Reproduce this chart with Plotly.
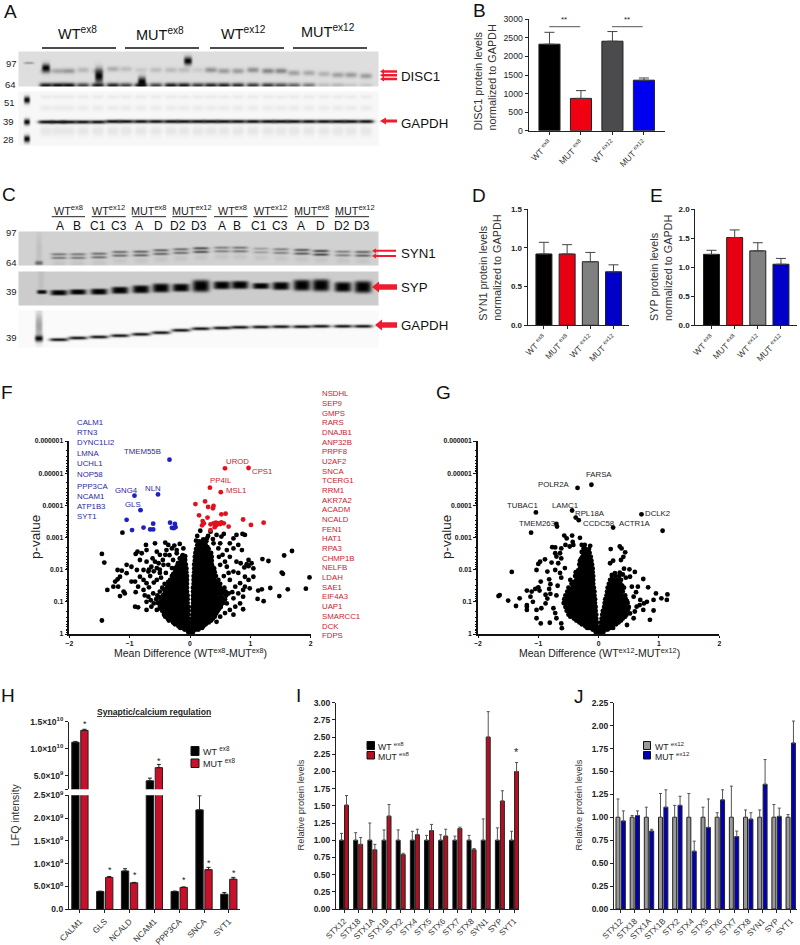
import numpy as np
import plotly.graph_objects as go

FONT = "Liberation Sans"
W, H = 800, 945

# ---------- bar data ----------
cond_ex = ["WT <sup>ex8</sup>", "MUT <sup>ex8</sup>", "WT <sup>ex12</sup>", "MUT <sup>ex12</sup>"]
disc1_vals = [2330, 870, 2410, 1360]
disc1_tops = [2650, 1080, 2670, 1420]
syn1_vals = [0.92, 0.92, 0.82, 0.69]
syn1_tops = [1.07, 1.04, 0.94, 0.78]
syp_vals = [1.22, 1.51, 1.28, 1.05]
syp_tops = [1.29, 1.64, 1.42, 1.15]

lfq_cats = ["CALM1", "GLS", "NCALD", "NCAM1", "PPP3CA", "SNCA", "SYT1"]
lfq_wt = [1.12e10, 3.9e8, 8.4e8, 4.07e9, 3.9e8, 2.18e9, 3.3e8]
lfq_wt_top = [1.135e10, 4.0e8, 8.9e8, 4.57e9, 4.0e8, 2.49e9, 3.7e8]
lfq_mut = [1.34e10, 7.0e8, 5.8e8, 6.5e9, 4.8e8, 8.7e8, 6.6e8]
lfq_mut_top = [1.36e10, 7.2e8, 5.9e8, 7.1e9, 4.9e8, 9.2e8, 7.0e8]

stx_cats = ["STX12", "STX18", "STX1A", "STX1B", "STX2", "STX4", "STX5", "STX6", "STX7", "STX8", "SYN1", "SYP", "SYT1"]
i_wt = [1.0] * 13
i_wt_top = [1.10, 1.11, 1.25, 1.15, 1.15, 1.13, 1.07, 1.08, 1.06, 1.07, 1.31, 1.18, 1.13]
i_mut = [1.51, 0.94, 0.86, 1.35, 0.79, 1.08, 1.14, 1.06, 1.17, 0.86, 2.50, 1.57, 2.00]
i_mut_top = [1.65, 1.04, 0.94, 1.52, 0.81, 1.16, 1.23, 1.16, 1.19, 0.88, 2.87, 1.72, 2.13]
j_wt = [1.0] * 13
j_wt_top = [1.20, 1.02, 1.11, 1.26, 1.13, 1.26, 1.11, 1.05, 1.34, 1.08, 1.08, 1.14, 1.03]
j_mut = [0.96, 1.02, 0.85, 1.11, 1.13, 0.63, 0.89, 1.19, 0.79, 0.98, 1.36, 1.01, 1.81]
j_mut_top = [1.07, 1.07, 0.87, 1.30, 1.23, 0.74, 1.20, 1.30, 0.85, 1.05, 1.63, 1.10, 2.05]

# ---------- volcano data: (mean difference, -log10 p) ----------
F_blue = [(-.34,5.42),(-.53,4.34),(-.92,4.30),(-.82,3.85),(-1.05,3.55),(-.61,3.43),(-.33,3.46),(-.25,3.42),
          (-.77,3.31),(-.66,3.25),(-.61,3.25),(-.96,3.23),(-.30,3.30),(-.24,3.32),(-.27,3.29)]
F_red = [(.58,5.15),(.97,5.16),(.33,4.55),(.51,4.41),(.09,4.04),(.25,4.12),(.30,3.95),(.39,3.98),(.38,3.91),
         (.15,3.69),(.29,3.62),(.52,3.72),(.59,3.74),(.88,3.56),(1.01,3.39),(1.22,3.46),(.21,3.51),(.23,3.44),
         (.20,3.38),(.34,3.41),(.39,3.44),(.43,3.46),(.47,3.44),(.52,3.47),(.44,3.39),(.56,3.44),(.64,3.34),
         (.34,3.23),(.41,3.32),(.50,3.42)]
F_sparse = [(-1.12,3.15),(-.73,2.77),(-.58,2.82),(-.41,2.84),(-.36,2.77),(-.17,2.80),(-.39,2.61),(-.30,2.66),
            (-.72,2.61),(-.80,2.51),(-.87,2.56),(-.90,2.49),(-.55,2.56),(-.50,2.46),(-.41,2.46),(-.22,2.61),
            (-.11,2.66),(-.22,2.51),(-.83,2.30),(-.72,2.25),(-.64,2.09),(-.52,2.20),(-.44,2.15),(-.36,2.15),
            (-.28,2.30),(-.17,2.35),(-.88,1.99),(-.77,1.99),(-.69,1.94),(-.97,2.09),(-1.05,2.15),(-1.20,1.99),
            (-1.13,1.97),(-1.05,1.89),(-1.16,1.78),(-1.20,1.70),(-1.24,1.63),(-1.37,1.37),(-1.27,1.47),(-1.19,1.47),
            (-1.10,1.32),(-1.08,1.26),(-1.16,1.18),(-.97,1.63),(-.91,1.63),(-.86,1.47),(-.72,1.58),(-.55,1.68),
            (-.61,1.26),(-.77,1.37),(-.69,1.16),(-.91,.85),(-.86,.83),(-.72,.75),(-.64,.85),(-.55,.75),(-1.46,.42),
            (-1.46,2.49),(-1.42,2.22),(-.77,1.68),(-.83,1.78),(-.60,1.95),(-.66,1.80),(-.50,1.90),(-.60,1.60),
            (-.68,1.45),(-.75,1.20),(-.65,1.05),(-.60,.95),(-.50,2.00),(-.45,2.30),(-.62,2.35),(-.68,2.00),
            (-.48,1.75),(-.90,1.30),(-.72,1.00),(-.34,2.45),(-.26,2.75),(-.55,2.05),(-.58,2.25),(-.12,2.45),
            (-.20,2.20),(-.30,2.05),(-.40,1.90),
            (1.69,2.58),(1.56,2.44),(1.20,2.33),(1.30,2.27),(1.52,1.91),(1.54,1.87),(1.98,1.76),(1.92,1.41),(1.62,1.39),
            (1.48,1.18),(1.33,1.43),(1.19,1.39),(1.13,1.35),(1.22,1.02),(1.12,1.09),(.97,2.30),(1.02,2.20),(.94,2.17),
            (.90,2.07),(.97,2.11),(1.05,2.04),(.91,1.78),(1.05,1.78),(.97,1.68),(.83,1.58),(.91,1.47),(.99,1.42),
            (.88,1.37),(.80,1.26),(.88,1.16),(.72,1.11),(.83,.95),(.88,.77),(.75,.85),
            (.17,3.21),(.34,3.18),(.22,2.94),(.28,2.97),(.44,3.08),(.52,3.03),(.56,3.11),(.72,2.97),(.77,3.08),
            (.87,3.11),(.91,3.08),(.66,2.82),(.80,2.77),(.61,2.61),(.72,2.66),(.86,2.61),(.50,2.82),(.39,2.82),
            (.47,2.66),(.54,2.46),(.66,2.40),(.77,2.25),(.61,2.09),(.72,1.94),(.66,1.68),(.75,1.47),(.64,1.26),
            (.61,.95),(.66,.75),(.50,.54),(.44,.38),(.38,2.95),(.30,3.05),(.12,3.05),(.10,2.90),(.58,2.25),
            (.50,2.15),(.48,2.40),(.64,1.90),(.56,1.80),(.70,1.30),(.72,.60),(.58,.65),(.84,2.20),(.80,1.90)]
F_left_rows = [(.06,[-.01,-.03]),(.14,[-.02,-.05,-.09]),(.24,[-.02,-.06,-.10,-.15,-.19]),
               (.36,[-.02,-.07,-.12,-.17,-.22,-.28]),(.48,[-.03,-.08,-.14,-.20,-.26,-.32,-.37]),
               (.60,[-.03,-.09,-.15,-.21,-.27,-.33,-.39,-.43]),(.72,[-.03,-.09,-.15,-.21,-.28,-.34,-.40,-.46]),
               (.84,[-.03,-.09,-.16,-.22,-.29,-.35,-.42,-.50]),(.96,[-.04,-.10,-.16,-.23,-.29,-.36,-.43,-.53]),
               (1.08,[-.04,-.10,-.17,-.23,-.30,-.37,-.44,-.56]),(1.20,[-.04,-.10,-.17,-.24,-.31,-.38,-.45,-.54]),
               (1.32,[-.05,-.11,-.17,-.24,-.31,-.38,-.50]),(1.44,[-.05,-.11,-.18,-.24,-.31,-.38,-.46]),
               (1.56,[-.05,-.11,-.18,-.25,-.32,-.42]),(1.68,[-.05,-.11,-.18,-.25,-.33]),
               (1.80,[-.05,-.11,-.17,-.23,-.30]),(1.92,[-.06,-.12,-.18,-.25]),(2.04,[-.06,-.12,-.19,-.25]),
               (2.16,[-.07,-.13,-.19]),(2.30,[-.08,-.14]),(2.42,[-.08,-.13]),
               (.19,[-.04,-.08,-.12,-.16]),(.30,[-.04,-.09,-.14,-.20,-.25]),(.42,[-.05,-.10,-.16,-.23,-.29,-.35]),
               (.54,[-.06,-.12,-.18,-.24,-.30,-.36,-.41]),(.66,[-.06,-.12,-.18,-.25,-.31,-.37,-.43]),
               (.78,[-.06,-.12,-.19,-.25,-.32,-.38,-.45,-.48]),(.90,[-.07,-.13,-.19,-.26,-.32,-.39,-.47]),
               (1.02,[-.07,-.13,-.20,-.26,-.33,-.40,-.49]),(1.14,[-.07,-.14,-.20,-.27,-.34,-.41,-.50]),
               (1.26,[-.08,-.14,-.21,-.28,-.35,-.42]),(1.38,[-.08,-.14,-.21,-.28,-.35,-.43]),
               (1.50,[-.08,-.15,-.21,-.28,-.36]),(1.62,[-.08,-.15,-.22,-.29,-.36]),(1.74,[-.08,-.14,-.21,-.28]),
               (1.86,[-.09,-.15,-.21,-.28]),(1.98,[-.09,-.15,-.22]),(2.10,[-.10,-.16,-.22]),(2.23,[-.10,-.16]),
               (2.36,[-.11,-.15])]
F_right_rows = [(.06,[.01,.03,.05]),(.14,[.02,.06,.10,.14]),(.24,[.03,.07,.12,.17,.22]),
                (.36,[.03,.08,.13,.19,.25,.31]),(.48,[.03,.09,.15,.21,.27,.33,.38]),
                (.60,[.04,.09,.15,.22,.28,.35,.42]),(.72,[.04,.10,.16,.23,.30,.37,.46]),
                (.84,[.04,.10,.17,.24,.31,.38,.45,.51]),(.96,[.05,.11,.17,.24,.31,.39,.47,.55]),
                (1.08,[.05,.11,.18,.25,.32,.40,.48,.58]),(1.20,[.05,.12,.18,.25,.33,.41,.50,.60]),
                (1.32,[.05,.12,.19,.26,.34,.42,.50,.59]),(1.44,[.05,.12,.19,.26,.34,.42,.50,.57]),
                (1.56,[.06,.12,.19,.26,.33,.41,.50]),(1.68,[.06,.12,.19,.26,.33,.40,.47]),
                (1.80,[.06,.13,.20,.27,.34,.43]),(1.92,[.07,.13,.20,.27,.34,.41]),(2.04,[.07,.14,.20,.27,.34,.40]),
                (2.16,[.07,.14,.21,.28,.36]),(2.28,[.08,.14,.21,.28,.36]),(2.40,[.08,.15,.22,.29,.36]),
                (2.52,[.09,.16,.23,.30,.35]),(2.64,[.10,.17,.24,.31]),(2.76,[.12,.19,.26]),(2.88,[.15,.21,.27]),
                (.19,[.04,.08,.12,.16,.20]),(.30,[.05,.10,.15,.21,.26]),(.42,[.06,.11,.17,.23,.29,.35]),
                (.54,[.06,.12,.18,.25,.31,.37,.41]),(.66,[.07,.13,.19,.26,.33,.40,.44]),
                (.78,[.07,.13,.20,.27,.34,.41,.48]),(.90,[.08,.14,.21,.28,.35,.43,.51]),
                (1.02,[.08,.15,.21,.28,.36,.44,.52]),(1.14,[.08,.15,.22,.29,.36,.44,.53]),
                (1.26,[.09,.15,.22,.30,.38,.46,.55]),(1.38,[.09,.16,.23,.30,.38,.46,.54]),
                (1.50,[.09,.16,.23,.30,.38,.46]),(1.62,[.09,.16,.23,.30,.37,.44]),
                (1.74,[.10,.16,.23,.30,.37]),(1.86,[.10,.17,.24,.31,.38]),(1.98,[.10,.17,.24,.31,.37]),
                (2.10,[.11,.18,.24,.31,.37]),(2.22,[.11,.18,.25,.32]),(2.34,[.12,.19,.26,.33]),
                (2.46,[.13,.20,.27,.33]),(2.58,[.14,.21,.28]),(2.70,[.15,.22,.29]),(2.82,[.18,.24])]

G_top = [(-.35,4.54),(-.12,4.64),(-1.04,3.78),(-.44,3.84),(-.38,3.62),(-.33,3.54),(.71,3.72),(-.70,3.42),(-.69,3.34),
         (-1.12,3.15),(.24,3.31),(1.06,3.21)]
G_sparse = [(-.57,3.06),(-.44,3.06),(-.53,2.97),(-.43,2.86),(-.31,2.99),(-.77,2.70),(-.72,2.69),(-.62,2.66),(-.55,2.77),
            (-.48,2.72),(-.42,2.77),(-.28,2.77),(-.23,2.77),(-.14,2.74),(-.25,2.66),(-.28,2.55),(-.20,2.55),(-.72,2.51),
            (-.64,2.51),(-.70,2.41),(-.62,2.35),(-.89,2.32),(-.97,2.25),(-1.00,2.18),(-.78,2.22),(-1.03,1.99),(-1.44,1.93),
            (-.85,1.94),(-.67,2.20),(-.56,2.05),(-.72,1.99),(-.96,1.63),(-1.00,1.45),(-1.19,1.35),(-1.11,1.32),(-1.31,1.11),
            (-1.64,1.21),(-1.66,1.18),(-1.50,1.04),(-1.37,.87),(-1.19,.90),(-1.19,.85),(-1.19,.75),(-1.13,1.16),(-1.09,1.00),
            (-1.03,.75),(-1.03,.49),(-.96,.33),(-.81,.35),(-.61,.18),(-.62,.33),(-.70,.49),(-.72,.65),(-1.05,1.40),
            (-.98,1.35),(-.82,1.70),(-.80,1.55),(-.82,1.40),(-.80,1.25),(-.85,1.10),(-.88,.95),(-.75,.80),(-.70,1.20),
            (-.68,1.50),(-.62,1.75),(-.64,1.90),(-.88,1.22),(-.95,.80),
            (.20,2.64),(.35,2.72),(.38,2.66),(.44,2.54),(.41,2.40),(.37,2.30),(.24,2.28),(.19,2.20),(.42,2.03),(.51,2.01),
            (.60,1.93),(.74,1.71),(.52,1.78),(.35,1.91),(.27,1.89),(.22,1.84),(.82,1.45),(.95,1.26),(1.04,1.11),(1.13,1.06),
            (1.14,1.23),(.91,1.06),(.91,.73),(.85,.44),(.80,1.00),(.74,.75),(.65,1.47),(.55,1.47),(.58,1.16),(.69,1.06),
            (.63,.85),(.52,.64),(.58,.49),(.47,.28),(.60,.70),(.68,.90),(.75,.95),(.62,1.30),(.45,1.75),(.40,1.85)]
G_left_rows = [(.06,[-.02,-.05]),(.14,[-.02,-.06,-.10]),(.24,[-.03,-.07,-.12,-.17,-.22]),
               (.36,[-.03,-.08,-.14,-.20,-.26,-.32]),(.48,[-.04,-.10,-.16,-.22,-.28,-.34,-.41]),
               (.60,[-.04,-.10,-.17,-.24,-.31,-.38,-.45,-.50]),(.72,[-.05,-.11,-.18,-.25,-.32,-.39,-.46,-.53]),
               (.84,[-.05,-.12,-.19,-.26,-.33,-.40,-.47,-.55]),(.96,[-.06,-.12,-.19,-.27,-.34,-.41,-.49,-.58]),
               (1.08,[-.06,-.13,-.20,-.27,-.34,-.42,-.50,-.57]),(1.20,[-.07,-.14,-.21,-.28,-.35,-.42,-.50,-.55]),
               (1.32,[-.07,-.14,-.21,-.28,-.35,-.43,-.52]),(1.44,[-.08,-.15,-.22,-.29,-.36,-.43,-.50]),
               (1.56,[-.09,-.16,-.23,-.30,-.37,-.45]),(1.68,[-.09,-.16,-.23,-.30,-.37,-.47]),
               (1.80,[-.09,-.16,-.23,-.30,-.39]),(1.92,[-.10,-.17,-.24,-.31,-.38]),(2.04,[-.10,-.17,-.24,-.31]),
               (2.16,[-.11,-.18,-.25,-.32]),(2.28,[-.12,-.19,-.26,-.31]),(2.40,[-.13,-.20,-.27]),(2.52,[-.15,-.22]),
               (2.64,[-.16,-.22]),
               (.19,[-.04,-.08,-.12,-.16,-.19]),(.30,[-.05,-.10,-.16,-.22,-.28]),(.42,[-.06,-.12,-.18,-.24,-.30,-.37]),
               (.54,[-.07,-.13,-.20,-.27,-.34,-.41,-.47]),(.66,[-.07,-.14,-.21,-.28,-.35,-.42,-.49]),
               (.78,[-.08,-.15,-.22,-.29,-.36,-.43,-.51]),(.90,[-.09,-.16,-.23,-.30,-.37,-.45,-.53]),
               (1.02,[-.09,-.16,-.23,-.30,-.38,-.46,-.54]),(1.14,[-.10,-.17,-.24,-.31,-.38,-.46,-.54]),
               (1.26,[-.10,-.17,-.24,-.31,-.39,-.47]),(1.38,[-.11,-.18,-.25,-.32,-.40,-.47]),
               (1.50,[-.12,-.19,-.26,-.33,-.41]),(1.62,[-.12,-.19,-.26,-.33,-.41]),(1.74,[-.12,-.19,-.26,-.34]),
               (1.86,[-.13,-.20,-.27,-.35]),(1.98,[-.13,-.20,-.27,-.34]),(2.10,[-.14,-.21,-.28]),
               (2.22,[-.15,-.22,-.29]),(2.34,[-.16,-.23,-.29]),(2.46,[-.18,-.25]),(2.58,[-.19,-.24])]
G_right_rows = [(.06,[.02,.05,.08]),(.14,[.03,.07,.11,.15]),(.24,[.03,.08,.13,.18,.23]),
                (.36,[.04,.09,.15,.21,.27,.33]),(.48,[.05,.10,.16,.22,.28,.34,.40]),
                (.60,[.06,.12,.18,.24,.30,.36,.42,.46]),(.72,[.07,.13,.19,.25,.32,.38,.45]),
                (.84,[.09,.15,.21,.27,.33,.40,.50]),(.96,[.10,.16,.22,.29,.35,.42,.48]),
                (1.08,[.11,.17,.24,.30,.37,.45]),(1.20,[.13,.19,.25,.32,.38,.44]),
                (1.32,[.14,.20,.27,.33,.40]),(1.44,[.15,.21,.28,.34,.42]),(1.56,[.17,.23,.30,.36]),
                (1.68,[.19,.25,.31,.37]),(1.80,[.22,.28,.34]),
                (.19,[.05,.09,.14,.19,.24]),(.30,[.06,.11,.17,.23,.29]),(.42,[.07,.13,.19,.25,.31,.37]),
                (.54,[.08,.15,.21,.27,.33,.39,.44]),(.66,[.09,.16,.22,.28,.35,.41,.47]),
                (.78,[.11,.18,.24,.30,.36,.43,.49]),(.90,[.12,.19,.25,.32,.38,.45]),
                (1.02,[.13,.20,.26,.33,.40,.47]),(1.14,[.15,.22,.28,.35,.41]),(1.26,[.16,.23,.30,.36]),
                (1.38,[.18,.24,.31,.38]),(1.50,[.19,.26,.33,.39]),(1.62,[.22,.28,.34])]

# ---------- gene labels ----------
F_blue_names = ["CALM1", "RTN3", "DYNC1LI2", "LMNA", "UCHL1", "NOP58", "PPP3CA", "NCAM1", "ATP1B3", "SYT1"]
F_blue_rows = [422.3, 432.3, 442.7, 453.3, 463.7, 474, 486, 496, 506.3, 516.7]
F_red_names = ["NSDHL", "SEP9", "GMPS", "RARS", "DNAJB1", "ANP32B", "PRPF8", "U2AF2", "SNCA", "TCERG1", "RRM1", "AKR7A2",
               "ACADM", "NCALD", "FEN1", "HAT1", "RPA3", "CHMP1B", "NELFB", "LDAH", "SAE1", "EIF4A3", "UAP1", "SMARCC1",
               "DCK", "FDPS"]
F_blue_callouts = [("TMEM55B", 142.7, 451.7), ("NLN", 152.7, 488.7), ("GNG4", 126.7, 490.3), ("GLS", 132.7, 504.3)]
F_red_callouts = [("UROD", 237.7, 461.3), ("CPS1", 262.3, 471), ("PP4IL", 220.7, 480.7), ("MSL1", 236, 490.7)]
G_callouts = [("FARSA", 598.7, 474), ("POLR2A", 554, 484.3), ("TUBAC1", 522.7, 505.7), ("LAMC1", 564.7, 505.7),
              ("RPL18A", 590, 513.7), ("DCLK2", 657.7, 513.7), ("TMEM263", 537.3, 523.7), ("CCDC58", 598.3, 523.7),
              ("ACTR1A", 634.7, 523.7)]

# ---------- blot bands, read lane by lane ----------
A_lanes = [45, 57, 68, 82, 97, 112, 125, 140, 155, 170, 183, 197, 210, 223, 237, 252, 267, 280, 293, 308, 323, 337, 350, 365]
A_up_y = [70, 70, 70, 69, 70, 68, 68, 69, 69, 69, 69, 69, 69, 70, 70, 69, 70, 70, 72, 72, 73, 74, 74, 75]
A_up_d = [.2, .25, .32, .18, .18, .22, .15, .1, .15, .16, .15, .08, .35, .3, .3, .36, .4, .4, .28, .24, .2, .28, .3, .3]
A_lo_d = [.9, .95, .95, .7, .85, .85, .7, .9, .7, .9, .9, .75, .85, .85, .8, .75, .75, .65, .55, .45, .15, .18, .1, .1]
C_lanes = [58, 77, 98, 119, 140, 160, 180, 200, 221, 239, 260, 280, 301, 320, 342, 362]
syn_y = [253.3, 253.3, 252.7, 251, 250.7, 249.3, 248.3, 247.3, 246.7, 246.7, 247.7, 248.3, 249, 250, 250.7, 251]
syn_d = [.45, .45, .5, .5, .55, .55, .5, .65, .4, .45, .25, .4, .6, .7, .4, .55]
syp_y = [291.7, 291, 290.7, 289.3, 288.3, 287, 286.7, 285, 284.3, 284, 285, 285, 284.3, 284.3, 286, 286]
syp_t = [2.7, 2.7, 3, 3.5, 4, 4.5, 4, 6, 4, 4, 3, 4, 5.5, 6, 5, 6]
gap_y = [338.7, 337, 336, 334.7, 333.3, 331.7, 329.3, 327.7, 327, 326.3, 326, 325.7, 325.7, 325.3, 325.3, 325.3]


def blot(x0, x1, y0, y1, bg, bands, py=2):
    xs = np.arange(x0, x1 + 1, 1.0)
    ys = np.arange(y0, y1 + 1, 1.0)
    xx, yy = np.meshgrid(xs, ys)
    z = np.full(xx.shape, float(bg))
    for cx, cy, sx, sy, d in bands:
        z = z * (1 - d * np.exp(-((xx - cx) / sx) ** 4 - np.abs((yy - cy) / sy) ** py))
    return go.Heatmap(x=xs, y=ys, z=np.round(z, 3), zmin=0, zmax=1, zsmooth="best", showscale=False, hoverinfo="skip",
                      colorscale=[[0, "#000"], [1, "#fff"]], xaxis="x", yaxis="y")


fig = go.Figure()
layout = dict(
    template="none", width=W, height=H, margin=dict(l=0, r=0, t=0, b=0, pad=0, autoexpand=False), paper_bgcolor="white",
    plot_bgcolor="rgba(0,0,0,0)", showlegend=False, barmode="overlay", font=dict(family=FONT, color="#222"),
    xaxis=dict(domain=[0, 1], range=[0, W], visible=False, fixedrange=True, automargin=False),
    yaxis=dict(domain=[0, 1], range=[H, 0], visible=False, fixedrange=True, automargin=False),
)
shapes, notes = [], []


def txt(x, y, s, size=10, color="#222", anchor="center", angle=0, bold=False, **kw):
    f = dict(size=size, color=color, family=FONT)
    if bold:
        f["weight"] = "bold"
    f.update(kw)
    notes.append(dict(x=x, y=y, xref="x", yref="y", text=s, showarrow=False, font=f, xanchor=anchor, yanchor="middle",
                      textangle=angle, align="left", borderpad=0, borderwidth=0))


def seg(x0, y0, x1, y1, color="#111", width=1.5):
    shapes.append(dict(type="line", x0=x0, y0=y0, x1=x1, y1=y1, xref="x", yref="y", line=dict(color=color, width=width)))


def box(x0, y0, x1, y1, color, line="#111"):
    shapes.append(dict(type="rect", x0=x0, y0=y0, x1=x1, y1=y1, xref="x", yref="y", fillcolor=color, line=dict(color=line, width=1)))


def arrow(tip, tail, y, th, hh, hl):
    p = f"M{tip},{y} L{tip+hl},{y-hh} L{tip+hl},{y-th} L{tail},{y-th} L{tail},{y+th} L{tip+hl},{y+th} L{tip+hl},{y+hh} Z"
    shapes.append(dict(type="path", path=p, xref="x", yref="y", fillcolor="#ee1c2e", line=dict(width=0)))


def axes(n, left, right, top, bottom):
    layout[f"xaxis{n}"] = dict(domain=[left / W, right / W], anchor=f"y{n}", fixedrange=True, automargin=False)
    layout[f"yaxis{n}"] = dict(domain=[1 - bottom / H, 1 - top / H], anchor=f"x{n}", fixedrange=True, automargin=False)


def style_x(n, rng, cats, size=8.5, lw=1.2):
    layout[f"xaxis{n}"].update(range=rng, tickmode="array", tickvals=list(range(len(cats))), ticktext=cats, tickangle=-45,
                               ticks="outside", ticklen=3, tickwidth=1, tickcolor="#222", showgrid=False, zeroline=False,
                               showline=True, linecolor="#222", linewidth=lw, tickfont=dict(size=size, color="#333"))


def style_y(n, rng, vals, labels, size=8.5, bold=True, lw=1.2):
    f = dict(size=size, color="#222")
    if bold:
        f["weight"] = "bold"
    layout[f"yaxis{n}"].update(range=rng, tickmode="array", tickvals=vals, ticktext=labels, ticks="outside", ticklen=3,
                               tickwidth=1, tickcolor="#222", showgrid=False, zeroline=False, showline=True,
                               linecolor="#222", linewidth=lw, tickfont=f)


def bars(n, vals, tops, colors, center, width, edge="#222", ecolor="#444", capw=3, ethick=1, floor=None):
    xs = [i for i, v in enumerate(vals) if floor is None or v > floor]
    ys = [vals[i] for i in xs]
    errs = [tops[i] - vals[i] for i in xs]
    fig.add_trace(go.Bar(x=xs, y=ys, xaxis=f"x{n}", yaxis=f"y{n}", width=width, offset=center - width / 2,
                         marker=dict(color=colors, line=dict(color=edge, width=1)),
                         error_y=dict(type="data", symmetric=False, array=errs,
                                      arrayminus=[0] * len(xs), color=ecolor, thickness=ethick, width=capw),
                         hoverinfo="skip"))


# ---------- blots ----------
bands = [(28, 62, 5, 1, .35), (45, 67, 4, 4, 1), (98, 75, 4, 7, 1), (141, 81, 4, 5, 1), (187, 60, 4, 4, 1)]
for x, yu, du, dl in zip(A_lanes, A_up_y, A_up_d, A_lo_d):
    bands += [(x, yu, 6, 2.6, du), (x, 84.5, 6.5, 2.6, dl)]
fig.add_trace(blot(19, 378, 52, 86, .87, bands))
bands = [(26, 99, 3, 3.5, 1), (26, 121, 3, 3, 1), (26, 138, 3, 3.5, 1)]
for x in A_lanes:
    bands += [(x, 121 if x < 110 else 120.5, 8, 1.7, .98), (x, 96, 6, 2, .05), (x, 107, 6, 3, .05), (x, 130, 6, 5, .07)]
fig.add_trace(blot(19, 378, 92, 145, .97, bands))
bands = [(38, 262, 4, 2, .5), (38, 250, 3, 18, .08)]
for x, y, d in zip(C_lanes, syn_y, syn_d):
    bands += [(x, y, 8, 1.2, d), (x, y + 3.6, 8, 1.2, d), (x, y + 9, 7, 3, .06)]
fig.add_trace(blot(19, 378, 232, 265, .82, bands))
bands = [(41, 291, 5, 2, .95), (40, 280, 3, 14, .06)]
for x, y, t in zip(C_lanes, syp_y, syp_t):
    bands.append((x, y, 8.5, t, 1))
fig.add_trace(blot(19, 378, 272, 305, .8, bands, py=4))
bands = [(38, 337.5, 4, 3, 1), (38, 325, 3.5, 14, .35)]
for x, y in zip(C_lanes, gap_y):
    bands.append((x, y, 9.5, 1.5, .98))
fig.add_trace(blot(19, 378, 311, 347, .98, bands))

# ---------- panel B, D, E ----------
axes(2, 528.7, 665, 19.3, 130.7)
style_x(2, [-0.66, 3.67], cond_ex)
style_y(2, [0, 3000], list(range(0, 3001, 500)), [str(v) for v in range(0, 3001, 500)], size=8.7, bold=False)
bars(2, disc1_vals, disc1_tops, ["#000000", "#f00010", "#4b4b4d", "#0000f0"], 0, .67, capw=5)

axes(3, 527.7, 629.3, 209, 325.3)
style_x(3, [-0.70, 3.68], cond_ex)
style_y(3, [0, 1.5], [0, .5, 1, 1.5], ["0.0", "0.5", "1.0", "1.5"], size=8)
bars(3, syn1_vals, syn1_tops, ["#000000", "#e60012", "#808080", "#0000c8"], 0, .69, capw=5)

axes(4, 695.3, 796.7, 209, 325.3)
style_x(4, [-0.70, 3.68], cond_ex)
style_y(4, [0, 2], [0, .5, 1, 1.5, 2], ["0.0", "0.5", "1.0", "1.5", "2.0"], size=8)
bars(4, syp_vals, syp_tops, ["#000000", "#e60012", "#808080", "#0000c8"], 0, .69, capw=5)


# ---------- volcanoes ----------
def unrows(rows):
    return [(x, y) for y, xs in rows for x in xs]


def volcano(n, left, right, groups):
    axes(n, left, right, 441, 634)
    layout[f"xaxis{n}"].update(range=[-2, 2], tickmode="array", tickvals=[-2, -1, 0, 1, 2], ticks="outside", ticklen=2,
                               tickcolor="#111", showgrid=False, zeroline=False, showline=True, linecolor="#111", linewidth=1.5,
                               tickfont=dict(size=6.8, weight="bold", color="#111"))
    layout[f"yaxis{n}"].update(type="log", range=[0, -6], tickmode="array", tickvals=[1, .1, .01, .001, .0001, .00001, .000001],
                               ticktext=["1", "0.1", "0.01", "0.001", "0.0001", "0.00001", "0.000001"], ticks="outside", ticklen=3,
                               tickcolor="#111", showgrid=False, zeroline=False, showline=True, linecolor="#111", linewidth=1.5,
                               minor=dict(ticks="outside", ticklen=1.5, tickcolor="#111", dtick="D1", showgrid=False),
                               tickfont=dict(size=6.8, weight="bold", color="#111"))
    for pts, color in groups:
        xs = [p[0] for p in pts]
        ys = [10 ** (-p[1]) for p in pts]
        fig.add_trace(go.Scatter(x=xs, y=ys, xaxis=f"x{n}", yaxis=f"y{n}", mode="markers", hoverinfo="skip", cliponaxis=False,
                                 marker=dict(size=4.8, color=color, line=dict(width=0))))


volcano(5, 69.3, 310.7, [(F_sparse + unrows(F_left_rows) + unrows(F_right_rows), "#000000"), (F_blue, "#2020c0"), (F_red, "#e3101e")])
volcano(6, 478, 719.3, [(G_top + G_sparse + unrows(G_left_rows) + unrows(G_right_rows), "#000000")])

# ---------- panel H (broken axis: both segments show the same values) ----------
axes(7, 69, 240, 795.3, 909.3)
axes(8, 69, 240, 721.7, 789.3)
style_x(7, [-0.44, 6.45], lfq_cats, size=8.3)
style_y(7, [0, 2.5e9], [0, 5e8, 1e9, 1.5e9, 2e9, 2.5e9],
        ["0.0", "5.0×10<sup>8</sup>", "1.0×10<sup>9</sup>", "1.5×10<sup>9</sup>", "2.0×10<sup>9</sup>", "2.5×10<sup>9</sup>"], size=8.5)
layout["xaxis8"].update(range=[-0.44, 6.45], visible=False)
style_y(8, [2.5e9, 1.5e10], [2.5e9, 5e9, 1e10, 1.5e10], ["", "5.0×10<sup>9</sup>", "1.0×10<sup>10</sup>", "1.5×10<sup>10</sup>"], size=8.5)
bars(7, lfq_wt, lfq_wt_top, "#000000", -.181, .295, ecolor="#222", capw=2)
bars(7, lfq_mut, lfq_mut_top, "#c8102a", .181, .295, ecolor="#222", capw=2)
bars(8, lfq_wt, lfq_wt_top, "#000000", -.181, .295, ecolor="#222", capw=2, floor=2.5e9)
bars(8, lfq_mut, lfq_mut_top, "#c8102a", .181, .295, ecolor="#222", capw=2, floor=2.5e9)

# ---------- panels I, J ----------
axes(9, 336, 519.3, 702.7, 909)
style_x(9, [-0.565, 12.37], stx_cats, size=8.2)
i_ticks = [0, .25, .5, .75, 1, 1.25, 1.5, 1.75, 2, 2.25, 2.5, 2.75, 3]
style_y(9, [0, 3], i_ticks, [f"{v:.2f}" for v in i_ticks], size=8.5)
bars(9, i_wt, i_wt_top, "#000000", -.177, .28, ecolor="#555", capw=1.5)
bars(9, i_mut, i_mut_top, "#b40f20", .177, .28, ecolor="#555", capw=1.5)

axes(10, 614, 796.7, 702.7, 909)
style_x(10, [-0.47, 12.42], stx_cats, size=8.2)
j_ticks = [0, .25, .5, .75, 1, 1.25, 1.5, 1.75, 2, 2.25]
style_y(10, [0, 2.25], j_ticks, [f"{v:.2f}" for v in j_ticks], size=8.5)
bars(10, j_wt, j_wt_top, "#999999", -.19, .28, ecolor="#555", capw=1.5)
bars(10, j_mut, j_mut_top, "#0000b8", .19, .28, ecolor="#555", capw=1.5)

# ---------- panel letters ----------
for s, x, y in [("A", 10, 11), ("B", 479, 10), ("C", 9, 194), ("D", 479, 195), ("E", 656, 195), ("F", 7, 392),
                ("G", 443, 392), ("H", 8, 695), ("I", 298, 695), ("J", 579, 696)]:
    txt(x, y, s, size=19, color="#111")

# ---------- blot headers ----------
for s, x, y, x0, x1 in [("WT<sup>ex8</sup>", 77, 33, 42, 116), ("MUT<sup>ex8</sup>", 160, 34, 125, 199),
                        ("WT<sup>ex12</sup>", 243, 33, 210, 284), ("MUT<sup>ex12</sup>", 328, 31, 293, 367)]:
    txt(x, y, s, size=14.5, color="#111")
    seg(x0, 48, x1, 48, width=1.6)
for s, x, x0, x1 in [("WT<sup>ex8</sup>", 68.7, 51.7, 85), ("WT<sup>ex12</sup>", 108.7, 91.7, 125.7), ("MUT<sup>ex8</sup>", 149, 132.3, 166),
                     ("MUT<sup>ex12</sup>", 191.7, 172.3, 206.7), ("WT<sup>ex8</sup>", 232, 214, 247.7), ("WT<sup>ex12</sup>", 270, 253.3, 287.7),
                     ("MUT<sup>ex8</sup>", 311.7, 295, 328.3), ("MUT<sup>ex12</sup>", 354.7, 335, 369)]:
    txt(x, 210, s, size=10.8, color="#222")
    seg(x0, 216.7, x1, 216.7, width=1, color="#222")
for s, x in zip(["A", "B", "C1", "C3", "A", "D", "D2", "D3", "A", "B", "C1", "C3", "A", "D", "D2", "D3"],
                [60, 77.3, 98.3, 119.3, 139.3, 158.3, 177.7, 199.3, 221.7, 237.3, 259.3, 280, 301, 320, 342.3, 361.7]):
    txt(x, 226, s, size=12, color="#111")
for s, x, y in [("97", 11, 63), ("64", 10, 84), ("51", 9.5, 102), ("39", 8.5, 121), ("28", 8.5, 139),
                ("97", 11, 232.7), ("64", 11, 262), ("39", 11, 291), ("39", 11, 337)]:
    txt(x, y, s, size=9.5, color="#222")

# ---------- arrows and protein names ----------
for y in (71.5, 75.2, 79):
    arrow(380, 397, y, 1.2, 2.4, 4)
arrow(380, 397, 121, 1.5, 3.4, 6)
for y in (250.8, 256):
    arrow(372, 396, y, 1, 2.4, 4)
arrow(372, 397, 287, 2.8, 5.5, 7)
arrow(375, 397, 325, 2.8, 5.5, 7)
for s, y in [("DISC1", 76), ("GAPDH", 123), ("SYN1", 253), ("SYP", 287), ("GAPDH", 325)]:
    txt(400.5, y, s, size=13.3, color="#111", anchor="left")

# ---------- B/D/E annotations ----------
txt(484.5, 78, "DISC1 protein levels<br>normalized to GAPDH", size=10.8, color="#333", angle=-90)
txt(489.7, 268, "SYN1 protein levels<br>normalized to GAPDH", size=10.8, color="#333", angle=-90)
txt(661, 268, "SYP protein levels<br>normalized to GAPDH", size=10.8, color="#333", angle=-90)
seg(549.3, 26.7, 580.3, 26.7, color="#555", width=1)
seg(612, 26.7, 642.7, 26.7, color="#555", width=1)
txt(564, 19.5, "**", size=8, color="#222")
txt(627, 19.5, "**", size=8, color="#222")

# ---------- volcano text ----------
txt(35, 537, "p-value", size=13.5, color="#222", angle=-90)
txt(446, 537, "p-value", size=13.5, color="#222", angle=-90)
txt(190, 652, "Mean Difference (WT<sup>ex8</sup>-MUT<sup>ex8</sup>)", size=10.5, color="#222")
txt(599, 652, "Mean Difference (WT<sup>ex12</sup>-MUT<sup>ex12</sup>)", size=10.5, color="#222")
for s, y in zip(F_blue_names, F_blue_rows):
    txt(77.3, y, s, size=7.8, color="#2a2a9c", anchor="left")
for i, s in enumerate(F_red_names):
    txt(321.7, 393.7 + i * 9.68, s, size=7.8, color="#cc2030", anchor="left")
for s, x, y in F_blue_callouts:
    txt(x, y, s, size=7.8, color="#2a2a9c")
for s, x, y in F_red_callouts:
    txt(x, y, s, size=7.8, color="#cc2030")
for s, x, y in G_callouts:
    txt(x, y, s, size=7.8, color="#222")

# ---------- H text ----------
txt(154, 712, "Synaptic/calcium regulation", size=8.6, color="#222", bold=True, lineposition="under")
txt(15, 815, "LFQ intensity", size=10.5, color="#333", angle=-90)
box(191, 746.5, 199, 755.5, "#000000")
box(191, 759, 199, 767.5, "#c8102a")
txt(203, 751, "WT <sup>ex8</sup>", size=9, color="#222", anchor="left")
txt(203, 763, "MUT <sup>ex8</sup>", size=9, color="#222", anchor="left")
for x, y in [(84.5, 722.5), (109.5, 868), (134.5, 873.5), (159, 759), (184, 878.5), (209, 861), (233.5, 871)]:
    txt(x, y + 1.5, "*", size=9, color="#222")

# ---------- I text ----------
txt(300.5, 805, "Relative protein levels", size=9.3, color="#333", angle=-90)
box(367, 741.5, 374.5, 749.5, "#000000")
box(367, 751.5, 374.5, 759, "#b40f20")
txt(377.7, 746, "WT <sup>ex8</sup>", size=8.7, color="#222", anchor="left")
txt(377.7, 755.5, "MUT <sup>ex8</sup>", size=8.7, color="#222", anchor="left")
txt(516, 752, "*", size=11, color="#222")

# ---------- J text ----------
txt(578.5, 805, "Relative protein levels", size=9.3, color="#333", angle=-90)
box(643.5, 741.5, 650.5, 749.5, "#999999")
box(643.5, 751.5, 650.5, 759, "#0000b8")
txt(654.7, 745.5, "WT <sup>ex12</sup>", size=8.7, color="#222", anchor="left")
txt(654.7, 755.5, "MUT <sup>ex12</sup>", size=8.7, color="#222", anchor="left")

layout["shapes"] = shapes
layout["annotations"] = notes
fig.update_layout(**layout)
fig.write_html("out.html", config={"displayModeBar": False, "responsive": False},
               post_script="document.body.style.margin='0';document.body.style.overflow='hidden';")
